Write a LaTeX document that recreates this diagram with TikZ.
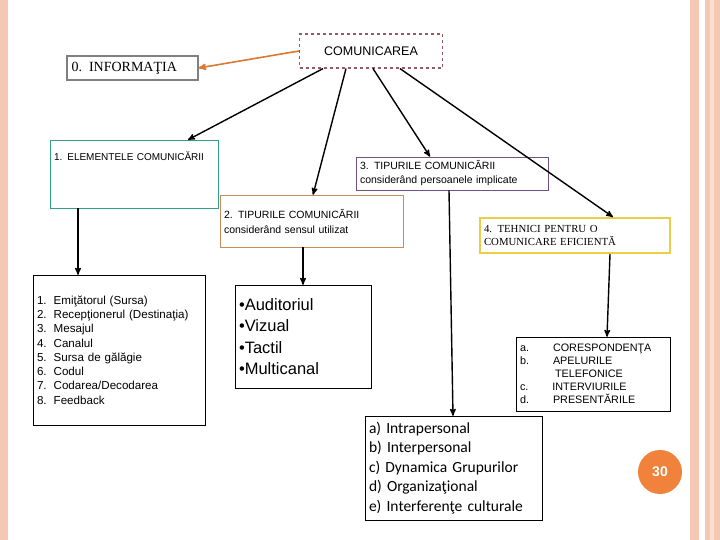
\documentclass[tikz,border=0pt]{standalone}
\usepackage{fontspec}
\setmainfont{Liberation Sans}
\newfontfamily\serifinfo{Liberation Serif}
\newfontfamily\carlito{Carlito}
\usetikzlibrary{arrows,positioning}
\definecolor{pinkbar}{RGB}{245,200,180}
\definecolor{dashbrown}{RGB}{150,90,100}
\definecolor{arrorange}{RGB}{220,120,50}
\definecolor{boxgreen}{RGB}{50,160,130}
\definecolor{boxpurple}{RGB}{110,80,130}
\definecolor{boxorange}{RGB}{200,140,90}
\definecolor{boxyellow}{RGB}{235,205,70}
\definecolor{pagecircle}{RGB}{240,130,60}
\tikzset{
    >=stealth',
    box/.style={
        rectangle,
        draw=black,
        inner sep=4pt
    },
    link/.style={draw, line width=1.4pt, ->}
}
\begin{document}
\begin{tikzpicture}[x=1pt,y=-1pt]
    \useasboundingbox (0,0) rectangle (720,540);
    % side bars
    \fill[pinkbar] (0,0) rectangle (8,540);
    \fill[pinkbar] (690,0) rectangle (699,540);
    \fill[pinkbar] (705,0) rectangle (720,540);
    \fill[pinkbar!60] (710,0) rectangle (714,540);

    % top level
    \node[box, draw=dashbrown, dashed, line width=1.2pt, minimum width=143, minimum height=34,
          font=\fontsize{12.5}{14}\selectfont]
        (com) at (371,51) {COMUNICAREA};
    \node[box, draw=gray, line width=2pt, minimum width=131, minimum height=24, text width=121,
          font=\serifinfo\fontsize{14}{16}\selectfont]
        (info) at (132,68) {0. INFORMAŢIA};

    % second level
    \node[box, draw=boxgreen, minimum width=168, minimum height=68, align=left, text width=160,
          font=\fontsize{10}{12}\selectfont]
        (elem) at (134,174) {1. ELEMENTELE COMUNICĂRII\\[24pt]\mbox{}};
    \node[box, draw=boxpurple, minimum width=192, minimum height=33, align=left, text width=184,
          font=\fontsize{10.5}{14}\selectfont]
        (tip3) at (452,173.5) {3. TIPURILE COMUNICĂRII\\considerând persoanele implicate};
    \node[box, draw=boxorange, minimum width=183, minimum height=52, align=left, text width=175,
          font=\fontsize{10.5}{15}\selectfont]
        (tip2) at (311.5,221) {2. TIPURILE COMUNICĂRII\\considerând sensul utilizat};
    \node[box, draw=boxyellow, line width=2pt, minimum width=190, minimum height=35, align=left, text width=182,
          font=\serifinfo\fontsize{10.8}{13}\selectfont]
        (tehn) at (575,235.5) {4. TEHNICI PENTRU O\\COMUNICARE EFICIENTĂ};

    % third level
    \node[box, minimum width=172, minimum height=150, align=left, text width=164,
          font=\fontsize{11.6}{14.3}\selectfont]
        (elist) at (119,350) {1.\hspace{7pt}Emiţătorul (Sursa)\\
        2.\hspace{7pt}Recepţionerul (Destinaţia)\\
        3.\hspace{7pt}Mesajul\\
        4.\hspace{7pt}Canalul\\
        5.\hspace{7pt}Sursa de gălăgie\\
        6.\hspace{7pt}Codul\\
        7.\hspace{7pt}Codarea/Decodarea\\
        8.\hspace{7pt}Feedback};
    \node[box, minimum width=134, minimum height=103, align=left, text width=128,
          font=\fontsize{16.5}{21.5}\selectfont]
        (sens) at (303,336.5) {•Auditoriul\\•Vizual\\•Tactil\\•Multicanal};
    \node[box, minimum width=152, minimum height=74, align=left, text width=146,
          font=\fontsize{10.8}{13}\selectfont]
        (tehl) at (593,374) {a.\hspace{24pt}CORESPONDENŢA\\
        b.\hspace{24pt}APELURILE\\
        \hspace{35pt}TELEFONICE\\
        c.\hspace{24pt}INTERVIURILE\\
        d.\hspace{24pt}PRESENTĂRILE};
    \node[box, minimum width=175, minimum height=104, align=left, text width=169,
          font=\carlito\fontsize{15.5}{19.5}\selectfont]
        (pers) at (453.5,468) {a) Intrapersonal\\b) Interpersonal\\c) Dynamica Grupurilor\\
        d) Organizaţional\\e) Interferenţe culturale};

    % page number
    \node[circle, fill=pagecircle, minimum size=44, text=white, font=\bfseries\fontsize{14}{16}\selectfont]
        (page) at (660,472) {30};

    % connectors
    \draw[arrorange, line width=1.6pt, ->] (com.west) -- (info.east);
    \draw[link] ([xshift=-48]com.south) -- ([xshift=54]elem.north);
    \draw[link] ([xshift=-25]com.south) -- ([xshift=1.5]tip2.north);
    \draw[link] ([xshift=2]com.south) -- ([xshift=-22]tip3.north);
    \draw[link] ([xshift=29]com.south) -- ([xshift=38]tehn.north);
    \draw[link] ([xshift=-56]elem.south) -- ([xshift=-41]elist.north);
    \draw[link] ([xshift=-8.5]tip2.south) -- (sens.north);
    \draw[link] ([xshift=-3]tip3.south) -- ([xshift=-0.5]pers.north);
    \draw[link] ([xshift=35]tehn.south) -- ([xshift=14]tehl.north);
\end{tikzpicture}
\end{document}
